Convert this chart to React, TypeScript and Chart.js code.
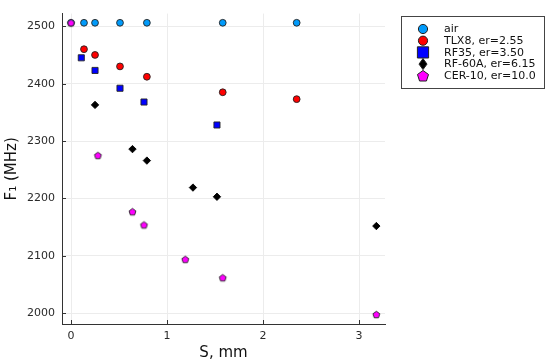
import React, { useEffect, useRef } from 'react';
import { Chart, registerables } from 'chart.js';
Chart.register(...registerables);

// ---- data ----
const sAir = [0, 0.135, 0.25, 0.51, 0.79, 1.58, 2.35];
const fAir = [2506, 2506, 2506, 2506, 2506, 2506, 2506];
const sTlx = [0.135, 0.25, 0.51, 0.79, 1.58, 2.35];
const fTlx = [2460, 2450, 2430, 2412, 2385, 2373];
const sRf35 = [0.107, 0.25, 0.51, 0.76, 1.52];
const fRf35 = [2445, 2423, 2392, 2368, 2328];
const sRf60 = [0.25, 0.64, 0.79, 1.27, 1.52, 3.18];
const fRf60 = [2363, 2286, 2266, 2219, 2203, 2152];
const sCer = [0, 0.28, 0.64, 0.76, 1.19, 1.58, 3.18];
const fCer = [2506, 2275, 2177, 2154, 2094, 2062, 1998];

const seriesNames = ['air', 'TLX8, er=2.55', 'RF35, er=3.50', 'RF-60A, er=6.15', 'CER-10, er=10.0'];
const xTicks = [0, 1, 2, 3];
const yTicks = [2000, 2100, 2200, 2300, 2400, 2500];
const xLabel = 'S, mm';
const yLabel = 'F\u2081 (MHz)';

const FONT = "'DejaVu Sans', sans-serif";
const colors = ['#009AFA', '#ff0000', '#0000ff', '#000000', '#ff00ff'];
const shapes = ['circle', 'circle', 'rect', 'diamond', 'pentagon'];

function pentPath(ctx: CanvasRenderingContext2D, cx: number, cy: number, r: number) {
  ctx.beginPath();
  for (let k = 0; k < 5; k++) {
    const a = -Math.PI / 2 + (k * 2 * Math.PI) / 5;
    const x = cx + r * Math.cos(a);
    const y = cy + r * Math.sin(a);
    if (k === 0) ctx.moveTo(x, y);
    else ctx.lineTo(x, y);
  }
  ctx.closePath();
}

function makePentagon(r: number, fill: string) {
  const c = document.createElement('canvas');
  const s = Math.ceil(2 * r + 3);
  c.width = s;
  c.height = s;
  const ctx = c.getContext('2d')!;
  pentPath(ctx, s / 2, s / 2 + 0.4, r);
  ctx.fillStyle = fill;
  ctx.fill();
  ctx.strokeStyle = '#222';
  ctx.lineWidth = 0.9;
  ctx.stroke();
  return c;
}

function drawMarker(ctx: CanvasRenderingContext2D, shape: string, x: number, y: number, r: number, fill: string) {
  ctx.save();
  ctx.fillStyle = fill;
  ctx.strokeStyle = '#222';
  ctx.lineWidth = 1;
  if (shape === 'circle') {
    ctx.beginPath();
    ctx.arc(x, y, r, 0, Math.PI * 2);
  } else if (shape === 'rect') {
    ctx.beginPath();
    ctx.rect(x - r, y - r, 2 * r, 2 * r);
  } else if (shape === 'diamond') {
    ctx.beginPath();
    ctx.moveTo(x, y - r * 1.1);
    ctx.lineTo(x + r * 0.8, y);
    ctx.lineTo(x, y + r * 1.1);
    ctx.lineTo(x - r * 0.8, y);
    ctx.closePath();
  } else {
    pentPath(ctx, x, y + 0.5, r * 1.1);
  }
  ctx.fill();
  ctx.stroke();
  ctx.restore();
}

const pts = (xs: number[], ys: number[]) => xs.map((x, i) => ({ x, y: ys[i] }));

export default function App() {
  const ref = useRef<HTMLCanvasElement | null>(null);
  useEffect(() => {
    if (!ref.current) return;
    const pent = makePentagon(3.6, colors[4]);
    const mk = (label: string, data: any[], i: number, style: any, radius: number) => ({
      label,
      data,
      order: 5 - i,
      showLine: false,
      pointStyle: style,
      pointRadius: radius,
      pointHoverRadius: radius,
      backgroundColor: colors[i],
      pointBackgroundColor: colors[i],
      pointBorderColor: i === 3 ? '#000' : '#222',
      pointBorderWidth: 0.9,
      borderColor: colors[i],
    });

    const extras = {
      id: 'extras',
      afterDraw(chart: any) {
        const ctx = chart.ctx as CanvasRenderingContext2D;
        const xs = chart.scales.x;
        const ys = chart.scales.y;
        const ca = chart.chartArea;
        ctx.save();
        ctx.strokeStyle = '#333';
        ctx.lineWidth = 1;
        for (const t of xTicks) {
          const px = Math.round(xs.getPixelForValue(t)) + 0.5;
          ctx.beginPath();
          ctx.moveTo(px, ca.bottom);
          ctx.lineTo(px, ca.bottom - 4);
          ctx.stroke();
        }
        for (const t of yTicks) {
          const py = Math.round(ys.getPixelForValue(t)) + 0.5;
          ctx.beginPath();
          ctx.moveTo(ca.left, py);
          ctx.lineTo(ca.left + 4, py);
          ctx.stroke();
        }
        // legend
        const bx = 401.5, by = 16.5, bw = 143, bh = 72;
        ctx.fillStyle = '#fff';
        ctx.fillRect(bx, by, bw, bh);
        ctx.strokeStyle = '#444';
        ctx.strokeRect(bx, by, bw, bh);
        ctx.font = `11px ${FONT}`;
        ctx.textBaseline = 'middle';
        ctx.textAlign = 'left';
        const sizes = [4.6, 4.6, 5.6, 5, 5.3];
        seriesNames.forEach((n, i) => {
          const ry = 29 + i * 11.7;
          drawMarker(ctx, shapes[i], 423, ry, sizes[i], colors[i]);
          ctx.fillStyle = '#111';
          ctx.fillText(n, 444, ry + 0.5);
        });
        ctx.restore();
      },
    };

    const chart = new Chart(ref.current, {
      type: 'scatter',
      data: {
        datasets: [
          mk(seriesNames[0], pts(sAir, fAir), 0, 'circle', 3.4),
          mk(seriesNames[1], pts(sTlx, fTlx), 1, 'circle', 3.4),
          mk(seriesNames[2], pts(sRf35, fRf35), 2, 'rect', 4.3),
          mk(seriesNames[3], pts(sRf60, fRf60), 3, 'rectRot', 3.7),
          mk(seriesNames[4], pts(sCer, fCer), 4, pent, 3.6),
        ] as any,
      },
      options: {
        animation: false,
        responsive: false,
        maintainAspectRatio: false,
        layout: { padding: { left: 0, top: 5, right: 165, bottom: 0 } },
        plugins: { legend: { display: false }, tooltip: { enabled: false } },
        scales: {
          x: {
            type: 'linear',
            min: -0.094,
            max: 3.27,
            afterBuildTicks: (s: any) => { s.ticks = xTicks.map((v) => ({ value: v })); },
            afterFit: (s: any) => { s.height = 39; },
            grid: { color: '#ececec', lineWidth: 1, drawTicks: false },
            border: { display: true, color: '#333', width: 1 },
            ticks: { padding: 6, color: '#2a2a2a', font: { family: FONT, size: 11 }, maxRotation: 0, callback: (v: any) => String(v) },
            title: { display: true, text: xLabel, color: '#111', font: { family: FONT, size: 15 }, padding: { top: 0, bottom: 1 } },
          },
          y: {
            type: 'linear',
            min: 1981.4,
            max: 2522,
            afterBuildTicks: (s: any) => { s.ticks = yTicks.map((v) => ({ value: v })); },
            afterFit: (s: any) => { s.width = 62; },
            grid: { color: '#ececec', lineWidth: 1, drawTicks: false },
            border: { display: true, color: '#333', width: 1 },
            ticks: { padding: 7, color: '#2a2a2a', font: { family: FONT, size: 11 }, callback: (v: any) => String(v) },
            title: { display: true, text: yLabel, color: '#111', font: { family: FONT, size: 15 }, padding: { top: 3, bottom: 0 } },
          },
        },
      },
      plugins: [extras],
    } as any);
    return () => chart.destroy();
  }, []);

  return (
    <div style={{ position: 'fixed', left: 0, top: 0, width: 550, height: 363, background: '#fff' }}>
      <canvas ref={ref} width={550} height={363} style={{ width: 550, height: 363, display: 'block' }} />
    </div>
  );
}
